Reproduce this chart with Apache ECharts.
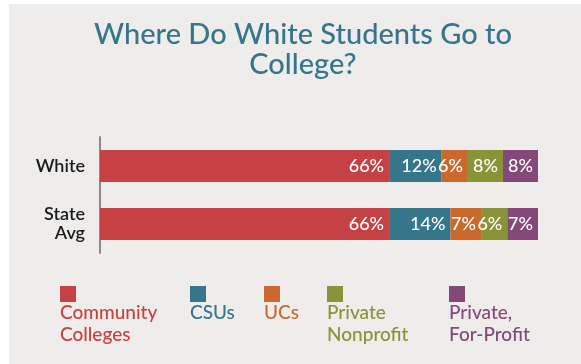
<!DOCTYPE html>
<html>
<head>
<meta charset="utf-8">
<script src="https://cdn.jsdelivr.net/npm/echarts@6/dist/echarts.min.js"></script>
<style>
html,body{margin:0;padding:0;background:#ffffff;}
#main{width:581px;height:364px;}
</style>
</head>
<body>
<div id="main"></div>
<script>
var titleText = 'Where Do White Students Go to\nCollege?';
var categories = ['White', 'State\nAvg'];
var seriesNames = ['Community Colleges', 'CSUs', 'UCs', 'Private Nonprofit', 'Private, For-Profit'];
var legendLabels = ['Community\nColleges', 'CSUs', 'UCs', 'Private\nNonprofit', 'Private,\nFor-Profit'];
var communityColleges = [66, 66];
var csus = [12, 14];
var ucs = [6, 7];
var privateNonprofit = [8, 6];
var privateForProfit = [8, 7];
var seriesValues = [communityColleges, csus, ucs, privateNonprofit, privateForProfit];
var colors = ['#c64143', '#36768b', '#c96a2c', '#8a9337', '#84487a'];

var legendX = [60, 190, 264, 327, 449];
var FONT = 'Lato, "Open Sans", sans-serif';

var chart = echarts.init(document.getElementById('main'), null, {renderer: 'canvas'});

var series = seriesNames.map(function (name, i) {
  return {
    name: name,
    type: 'bar',
    stack: 'total',
    barWidth: 32,
    data: seriesValues[i],
    itemStyle: {color: colors[i]},
    label: {
      show: true,
      position: 'insideRight',
      distance: 5,
      formatter: '{c}%',
      color: '#ffffff',
      fontFamily: FONT,
      fontWeight: 500,
      fontSize: 18
    },
    emphasis: {disabled: true},
    animation: false
  };
});

var graphic = [{
  type: 'rect',
  left: 9, top: 4, z: -10,
  shape: {width: 572, height: 360},
  style: {fill: '#eeedeb'},
  silent: true
}];
legendLabels.forEach(function (lab, i) {
  graphic.push({
    type: 'rect',
    left: legendX[i], top: 286,
    shape: {width: 16, height: 16},
    style: {fill: colors[i]}
  });
  graphic.push({
    type: 'text',
    left: legendX[i], top: 302,
    style: {
      text: lab,
      fill: colors[i],
      font: '500 19px ' + FONT,
      lineHeight: 22
    }
  });
});

chart.setOption({
  animation: false,
  backgroundColor: '#ffffff',
  title: {
    text: titleText,
    left: 298,
    textAlign: 'center',
    top: 15,
    textStyle: {
      color: '#36768b',
      fontFamily: FONT,
      fontWeight: 500,
      fontSize: 29,
      lineHeight: 30
    }
  },
  grid: {left: 100, right: 43, top: 137, height: 116},
  xAxis: {
    type: 'value',
    min: 0, max: 100,
    show: false
  },
  yAxis: {
    type: 'category',
    data: categories,
    inverse: true,
    offset: 1,
    axisLine: {show: true, lineStyle: {color: '#8a8a8a', width: 2}},
    axisTick: {show: false},
    axisLabel: {
      color: '#1a1a1a',
      fontFamily: FONT,
      fontWeight: 600,
      fontSize: 18,
      lineHeight: 19,
      margin: 14,
      align: 'right'
    }
  },
  graphic: graphic,
  series: series
});
</script>
</body>
</html>
